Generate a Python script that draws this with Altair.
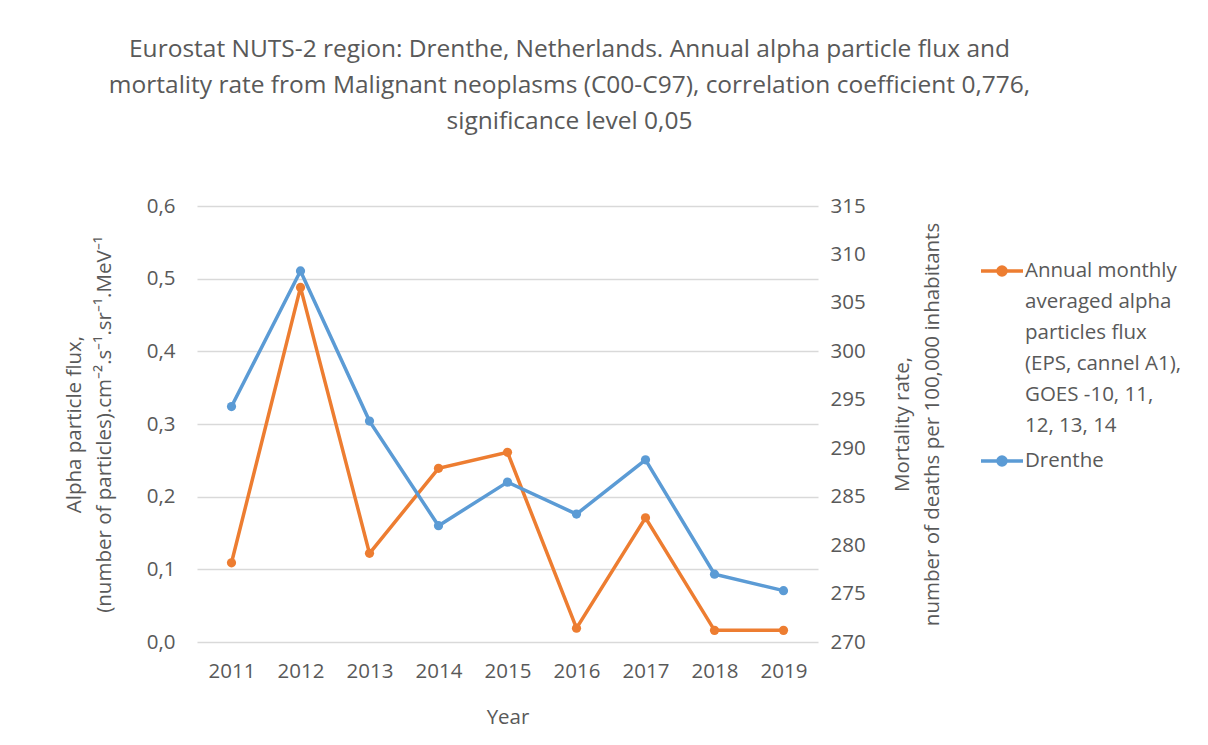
import altair as alt
import pandas as pd

years = [2011, 2012, 2013, 2014, 2015, 2016, 2017, 2018, 2019]
alpha_flux = [0.109, 0.488, 0.122, 0.239, 0.261, 0.019, 0.171, 0.016, 0.016]
mortality = [294.3, 308.3, 292.8, 282.0, 286.5, 283.2, 288.8, 277.0, 275.3]

series_names = [
    "Annual monthly averaged alpha particles flux (EPS, cannel A1), GOES -10, 11, 12, 13, 14",
    "Drenthe",
]
legend_lines = [
    "Annual monthly",
    "averaged alpha",
    "particles flux",
    "(EPS, cannel A1),",
    "GOES -10, 11,",
    "12, 13, 14",
]
series_colors = ["#ED7D31", "#5B9BD5"]

left_ticks = [0.0, 0.1, 0.2, 0.3, 0.4, 0.5, 0.6]
right_ticks = [270, 275, 280, 285, 290, 295, 300, 305, 310, 315]

title_lines = [
    "Eurostat NUTS-2 region: Drenthe, Netherlands.  Annual alpha particle flux and",
    "mortality rate from Malignant neoplasms (C00-C97), correlation coefficient 0,776,",
    "significance level 0,05",
]
left_title = ["Alpha particle flux,", "(number of particles).cm\u207b\u00b2.s\u207b\u00b9.sr\u207b\u00b9.MeV\u207b\u00b9"]
right_title = ["Mortality rate,", "number of deaths per 100,000 inhabitants"]

FONT = "Open Sans"
TXT = "#595959"
FS = 20.5

df_a = pd.DataFrame({"Year": years, "value": alpha_flux, "series": series_names[0]})
df_m = pd.DataFrame({"Year": years, "value": mortality, "series": series_names[1]})

label_expr = "datum.label == 'Drenthe' ? 'Drenthe' : " + "[" + ", ".join("'" + s + "'" for s in legend_lines) + "]"

x_enc = alt.X(
    "Year:O",
    scale=alt.Scale(type="point", padding=0.5),
    axis=alt.Axis(
        title="Year", labelAngle=0, ticks=False, domain=False, grid=False,
        labelPadding=19, titlePadding=26,
    ),
)

color_enc = alt.Color(
    "series:N",
    scale=alt.Scale(domain=series_names, range=series_colors),
    legend=alt.Legend(
        title=None,
        orient="none",
        legendX=782,
        legendY=42,
        labelExpr=label_expr,
        labelLimit=400,
        labelOffset=0,
        labelFontSize=FS,
        labelFont=FONT,
        labelColor=TXT,
        symbolType="M-1,0H1M-0.19,0A0.19,0.19 0 1,0 0.19,0A0.19,0.19 0 1,0 -0.19,0Z",
        symbolSize=1764,
        symbolStrokeWidth=3.5,
        rowPadding=1,
    ),
)

left = alt.Chart(df_a).mark_line(
    strokeWidth=3.5, point=alt.OverlayMarkDef(filled=True, size=85)
).encode(
    x=x_enc,
    y=alt.Y(
        "value:Q",
        scale=alt.Scale(domain=[0, 0.6]),
        axis=alt.Axis(
            title=left_title, values=left_ticks, grid=True, gridColor="#D9D9D9",
            gridWidth=1.3, ticks=False, domain=False, labelPadding=22, titlePadding=32,
            labelExpr="replace(format(datum.value, '.1f'), '.', ',')",
        ),
    ),
    color=color_enc,
)

right = alt.Chart(df_m).mark_line(
    strokeWidth=3.5, point=alt.OverlayMarkDef(filled=True, size=85)
).encode(
    x=x_enc,
    y=alt.Y(
        "value:Q",
        scale=alt.Scale(domain=[270, 315]),
        axis=alt.Axis(
            title=right_title, orient="right", values=right_ticks, grid=False,
            ticks=False, domain=False, labelPadding=12, titlePadding=17,
            titleAngle=270,
        ),
    ),
    color=color_enc,
)

chart = (
    alt.layer(left, right)
    .resolve_scale(y="independent")
    .properties(
        width=621,
        height=436,
        autosize=alt.AutoSizeParams(type="none"),
        padding={"left": 189, "top": 198, "right": 370, "bottom": 90},
        title=alt.TitleParams(
            text=title_lines, fontSize=24.5, font=FONT, color=TXT, fontWeight="normal",
            anchor="middle", dx=62, offset=62, lineHeight=36,
        ),
    )
    .configure(style={"guide-label": {"lineHeight": 31}})
    .configure_view(stroke=None)
    .configure_axis(
        labelFont=FONT, labelFontSize=FS, labelColor=TXT,
        titleFont=FONT, titleFontSize=FS, titleColor=TXT, titleFontWeight="normal",
        titleLineHeight=30,
    )
)

chart.save("out.html", embed_options={"renderer": "svg", "actions": False})
